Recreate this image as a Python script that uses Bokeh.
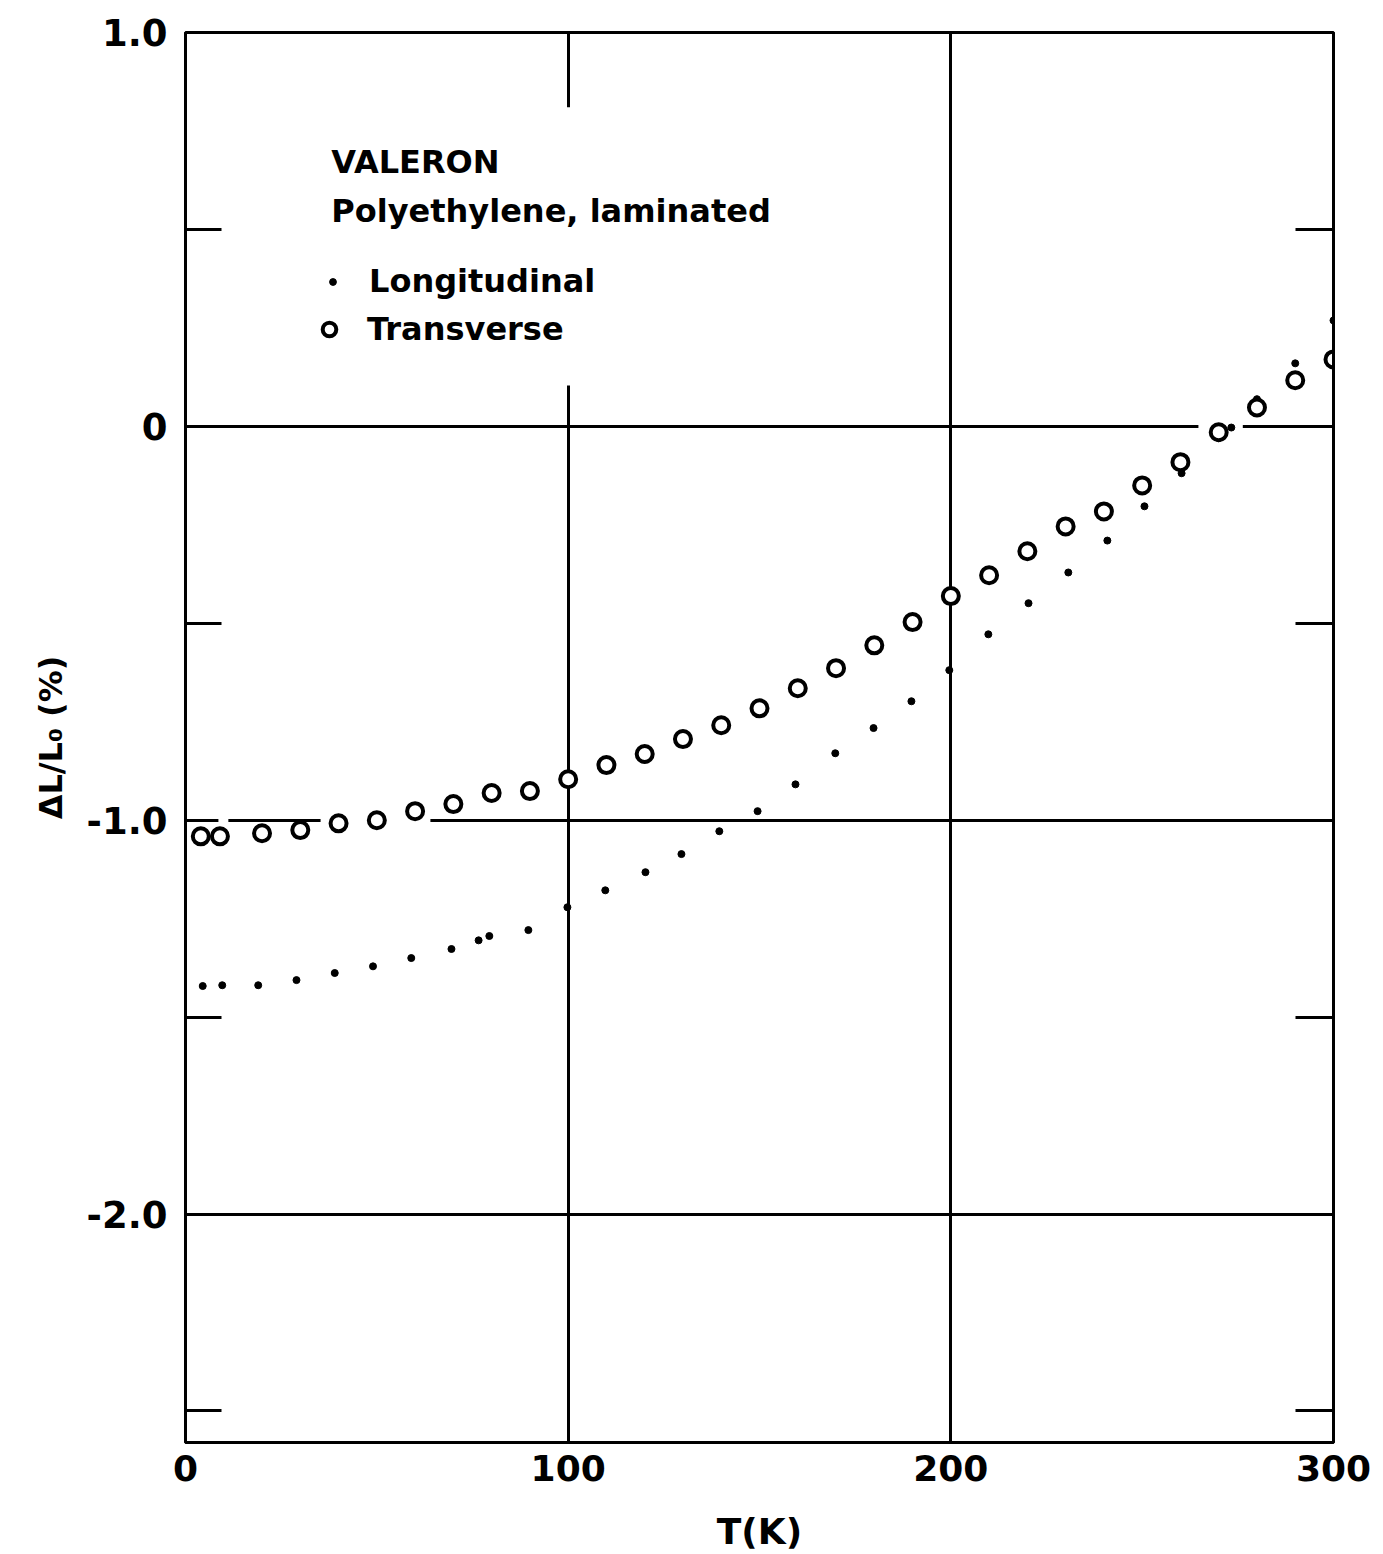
from bokeh.plotting import figure
from bokeh.models import Range1d, FixedTicker, LinearAxis, Label, Legend, LegendItem, BoxAnnotation
from bokeh.embed import file_html
from bokeh.resources import INLINE

# ---- data ----
long_T = [4.5, 9.6, 19, 29, 39, 49, 59, 69.5, 76.6, 79.4, 89.6, 99.8, 109.7, 120.2,
          129.6, 139.5, 149.5, 159.4, 169.8, 179.8, 189.7, 199.6, 209.8, 220.3, 230.7,
          240.9, 250.6, 260.3, 270, 273.3, 280, 290, 300]
long_dL = [-1.421, -1.419, -1.419, -1.406, -1.388, -1.371, -1.350, -1.327, -1.305, -1.294,
           -1.279, -1.221, -1.178, -1.132, -1.086, -1.028, -0.977, -0.909, -0.830, -0.766,
           -0.698, -0.619, -0.528, -0.449, -0.371, -0.290, -0.203, -0.119, -0.030, -0.003,
           0.069, 0.160, 0.269]

trans_T = [4, 9, 20, 30, 40, 50, 60, 70, 80, 90, 100, 110, 120, 130, 140, 150, 160,
           170, 180, 190, 200, 210, 220, 230, 240, 250, 260, 270, 280, 290, 300]
trans_dL = [-1.041, -1.041, -1.033, -1.025, -1.008, -1.000, -0.977, -0.959, -0.931, -0.926,
            -0.896, -0.860, -0.832, -0.794, -0.759, -0.716, -0.665, -0.614, -0.556, -0.497,
            -0.431, -0.378, -0.317, -0.254, -0.216, -0.150, -0.091, -0.015, 0.048, 0.117,
            0.170]

x_ticks = [0, 100, 200, 300]
y_ticks = [-2, -1, 0, 1]
y_tick_labels = ["-2.0", "-1.0", "0", "1.0"]
y_minor_ticks = [-2.5, -1.5, -0.5, 0.5]
title_lines = ["VALERON", "Polyethylene, laminated"]
series_names = ["Longitudinal", "Transverse"]
x_title = "T(K)"
y_title = "ΔL/L₀ (%)"

FONT = "DejaVu Sans"
INK = "black"

p = figure(frame_width=1148, frame_height=1410,
           x_range=Range1d(0, 300), y_range=Range1d(-2.58, 1.0),
           output_backend="svg", toolbar_location=None,
           min_border_left=185, min_border_right=50,
           min_border_top=32, min_border_bottom=112)
p.background_fill_color = "white"
p.border_fill_color = "white"
p.outline_line_color = INK
p.outline_line_width = 3

# x axis
p.xaxis.ticker = FixedTicker(ticks=x_ticks)
p.xaxis.major_tick_in = 0
p.xaxis.major_tick_out = 0
p.xaxis.minor_tick_in = 0
p.xaxis.minor_tick_out = 0
p.xaxis.axis_line_color = INK
p.xaxis.axis_line_width = 3
p.xaxis.major_label_text_font = FONT
p.xaxis.major_label_text_font_style = "bold"
p.xaxis.major_label_text_font_size = "36px"
p.xaxis.major_label_text_color = INK
p.xaxis.major_label_standoff = 12
p.xaxis.axis_label = x_title
p.xaxis.axis_label_text_font = FONT
p.xaxis.axis_label_text_font_style = "bold"
p.xaxis.axis_label_text_font_size = "36px"
p.xaxis.axis_label_text_color = INK
p.xaxis.axis_label_standoff = 27

# y axis
p.yaxis.ticker = FixedTicker(ticks=y_ticks, minor_ticks=y_minor_ticks)
p.yaxis.major_label_overrides = dict(zip(y_ticks, y_tick_labels))
p.yaxis.major_tick_in = 0
p.yaxis.major_tick_out = 0
p.yaxis.minor_tick_in = 36
p.yaxis.minor_tick_out = 0
p.yaxis.minor_tick_line_width = 3
p.yaxis.minor_tick_line_color = INK
p.yaxis.axis_line_color = INK
p.yaxis.axis_line_width = 3
p.yaxis.major_label_text_font = FONT
p.yaxis.major_label_text_font_style = "bold"
p.yaxis.major_label_text_font_size = "37px"
p.yaxis.major_label_text_color = INK
p.yaxis.major_label_standoff = 18
p.yaxis.axis_label = y_title
p.yaxis.axis_label_text_font = FONT
p.yaxis.axis_label_text_font_style = "bold"
p.yaxis.axis_label_text_font_size = "32px"
p.yaxis.axis_label_text_color = INK
p.yaxis.axis_label_standoff = 14

right = LinearAxis(ticker=FixedTicker(ticks=[], minor_ticks=y_minor_ticks),
                   major_tick_in=0, major_tick_out=0,
                   minor_tick_in=38, minor_tick_out=0,
                   minor_tick_line_width=3, minor_tick_line_color=INK,
                   axis_line_color=INK, axis_line_width=3,
                   major_label_text_font_size="0px")
p.add_layout(right, "right")

# grid
p.xgrid.ticker = FixedTicker(ticks=x_ticks)
p.ygrid.ticker = FixedTicker(ticks=y_ticks)
p.grid.grid_line_color = INK
p.grid.grid_line_width = 3
p.grid.grid_line_alpha = 1.0

# hand-drawn breaks in the grid lines of the original drawing
for l, r, b, t in [(98.5, 101.5, 0.104, 0.81),
                   (35.3, 64.0, -1.02, -0.98),
                   (8.6, 11.2, -1.02, -0.98),
                   (264.7, 276.3, -0.02, 0.02)]:
    p.add_layout(BoxAnnotation(left=l, right=r, bottom=b, top=t, level="underlay",
                               fill_color="white", fill_alpha=1.0, line_color=None))

# data
r_long = p.scatter(long_T, long_dL, marker="circle", size=7,
                   fill_color=INK, line_color=INK)
r_trans = p.scatter(trans_T, trans_dL, marker="circle", size=16,
                    fill_color="white", line_color=INK, line_width=4)

# legend title lines
p.add_layout(Label(x=38.1, y=0.670, text=title_lines[0], text_font=FONT,
                   text_font_style="bold", text_font_size="32px", text_color=INK,
                   text_baseline="alphabetic"))
p.add_layout(Label(x=38.1, y=0.548, text=title_lines[1], text_font=FONT,
                   text_font_style="bold", text_font_size="32px", text_color=INK,
                   text_baseline="alphabetic"))

def make_legend(name, rend, glyph, loc, standoff):
    return Legend(items=[LegendItem(label=name, renderers=[rend])],
                  location=loc, glyph_width=glyph, glyph_height=glyph,
                  label_height=40, label_standoff=standoff,
                  padding=0, margin=0, spacing=0,
                  border_line_color=None, background_fill_alpha=0,
                  label_text_font=FONT, label_text_font_style="bold",
                  label_text_font_size="32px", label_text_color=INK)

p.add_layout(make_legend(series_names[0], r_long, 17, (139, 1141), 28))
p.add_layout(make_legend(series_names[1], r_trans, 34, (127, 1093), 21))

html = file_html(p, INLINE)
with open("out.html", "w") as f:
    f.write(html)
